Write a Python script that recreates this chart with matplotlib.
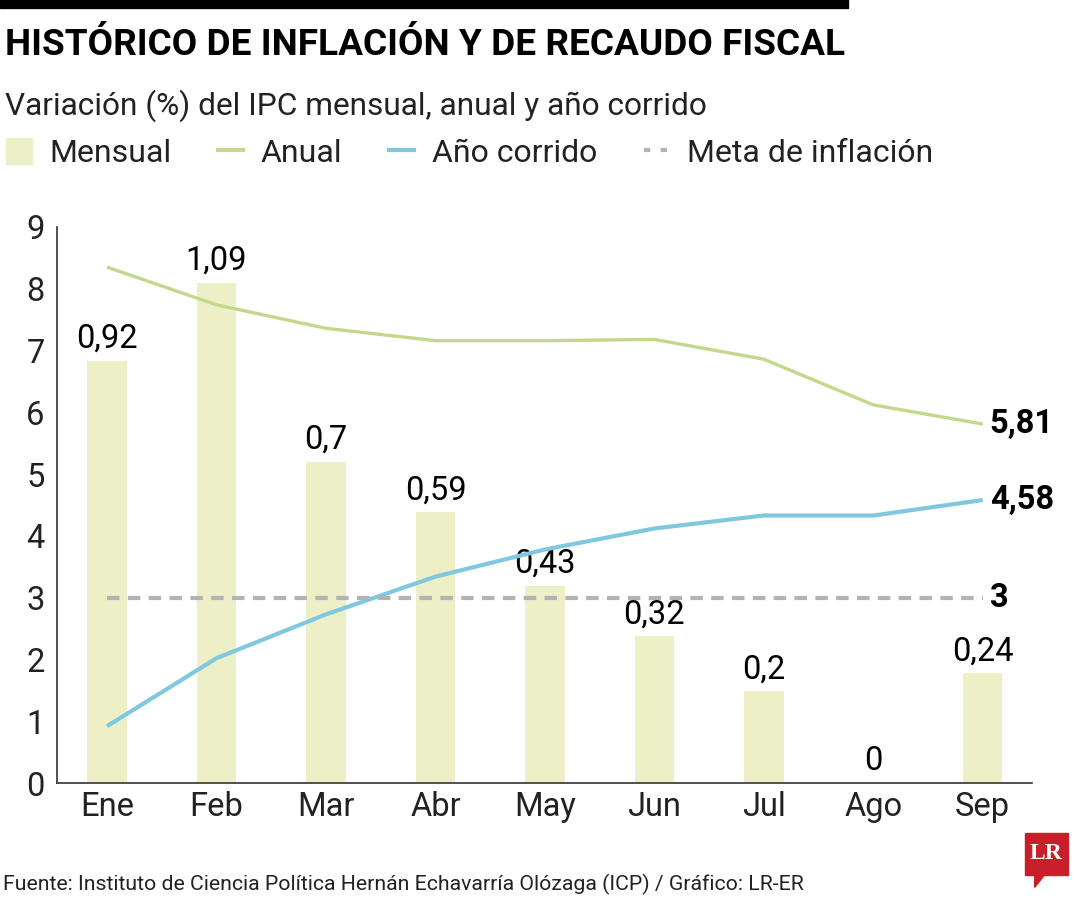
import matplotlib
matplotlib.use("Agg")
import matplotlib.pyplot as plt
from matplotlib.patches import Rectangle, Polygon
from matplotlib.lines import Line2D

plt.rcParams["font.family"] = ["Roboto", "DejaVu Sans"]

meses = ["Ene", "Feb", "Mar", "Abr", "May", "Jun", "Jul", "Ago", "Sep"]
mensual = [0.92, 1.09, 0.70, 0.59, 0.43, 0.32, 0.20, 0.00, 0.24]
anual = [8.35, 7.74, 7.36, 7.16, 7.16, 7.18, 6.86, 6.12, 5.81]
corrido = [0.92, 2.02, 2.73, 3.34, 3.78, 4.12, 4.33, 4.33, 4.58]
meta = [3] * len(meses)

c_bar = "#edf0c6"
c_anual = "#c3d88b"
c_corr = "#7fc8e0"
c_meta = "#b3b3b3"

fig = plt.figure(figsize=(10.8, 9), dpi=100)
renderer = fig.canvas.get_renderer()


def fit_width(t, width_px):
    # shrink/grow a text so it spans the same width as in the reference
    w = t.get_window_extent(renderer).width
    t.set_fontsize(t.get_fontsize() * width_px / w)


ax = fig.add_axes([0.0528, 0.13, 0.9028, 0.6178])
ax2 = ax.twinx()

x = list(range(len(meses)))

# bars on a hidden secondary scale
ax2.bar(x, mensual, width=0.36, color=c_bar, zorder=1)
ax2.set_ylim(0, 9 / 7.43)
ax2.axis("off")
for xi, v in zip(x, mensual):
    lbl = f"{v:.2f}".rstrip("0").rstrip(".").replace(".", ",")
    ax2.annotate(lbl, (xi, v), xytext=(0, 4), textcoords="offset points",
                 ha="center", va="bottom", fontsize=23.5, color="black")

ax.set_zorder(ax2.get_zorder() + 1)
ax.patch.set_visible(False)

ax.plot(x, anual, color=c_anual, lw=2.4, solid_capstyle="butt")
ax.plot(x, corrido, color=c_corr, lw=3, solid_capstyle="butt")
ax.plot(x, meta, color=c_meta, lw=3, dashes=(3, 2))

for vals, txt in [(anual, "5,81"), (corrido, "4,58"), (meta, "3")]:
    ax.annotate(txt, (x[-1], vals[-1]), xytext=(5, 0), textcoords="offset points",
                ha="left", va="center", fontsize=23.5, fontweight="bold")

ax.set_xlim(-0.457, 8.45)
ax.set_ylim(0, 9)
ax.set_yticks(range(10))
ax.set_xticks(x)
ax.set_xticklabels(meses)
ax.tick_params(length=0, labelsize=23.5, labelcolor="#222222")
ax.tick_params(axis="x", pad=6)
ax.tick_params(axis="y", pad=9)
for s in ["top", "right"]:
    ax.spines[s].set_visible(False)
for s in ["left", "bottom"]:
    ax.spines[s].set_color("#333333")
    ax.spines[s].set_linewidth(1.2)

# header
fig.patches.append(Rectangle((0, 0.991), 0.785, 0.009, transform=fig.transFigure,
                             color="black"))
title = fig.text(0.005, 0.95, "HISTÓRICO DE INFLACIÓN Y DE RECAUDO FISCAL",
                 fontsize=28, fontweight="bold", va="center", ha="left")
fit_width(title, 840)
sub = fig.text(0.005, 0.883, "Variación (%) del IPC mensual, anual y año corrido",
               fontsize=23, va="center", ha="left", color="#222222")
fit_width(sub, 707)

# legend
handles = [
    Rectangle((0, 0), 1, 1, color=c_bar),
    Line2D([], [], color=c_anual, lw=3),
    Line2D([], [], color=c_corr, lw=3),
    Line2D([], [], color=c_meta, lw=3, dashes=(1.5, 2.5)),
]
fig.legend(handles, ["Mensual", "Anual", "Año corrido", "Meta de inflación"],
           loc="center left", bbox_to_anchor=(-0.021, 0.83), ncol=4, frameon=False,
           fontsize=23, handlelength=0.8, handleheight=0.9, handletextpad=0.55,
           columnspacing=1.45, labelcolor="#222222")

src = fig.text(0.003, 0.017,
               "Fuente: Instituto de Ciencia Política Hernán Echavarría Olózaga (ICP) / Gráfico: LR-ER",
               fontsize=15, va="center", ha="left", color="#222222")
fit_width(src, 805)

# LR logo
fig.patches.append(Rectangle((0.949, 0.028), 0.04, 0.047, transform=fig.transFigure,
                             color="#c8202a"))
fig.patches.append(Polygon([[0.958, 0.029], [0.968, 0.029], [0.958, 0.014]],
                           transform=fig.transFigure, color="#c8202a"))
fig.text(0.969, 0.052, "LR", fontsize=17, fontweight="bold", color="white",
         family="Liberation Serif", ha="center", va="center")

fig.savefig("out.png", dpi=100)
